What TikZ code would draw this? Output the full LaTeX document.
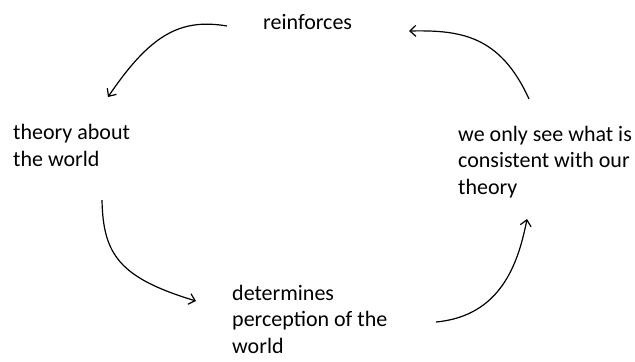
\documentclass[tikz,border=0pt]{standalone}
\usepackage{fontspec}
\setmainfont{Carlito}
\usetikzlibrary{arrows.meta}

\begin{document}
\begin{tikzpicture}[x=1bp,y=-1bp,
    label/.style={anchor=base west,inner sep=0pt,align=left,
        font=\fontsize{22bp}{26.5bp}\selectfont},
    cycle/.style={line width=1.2bp,-{Straight Barb[length=6bp,width=11bp]}}]
    \useasboundingbox (0,0) rectangle (635,361);

    % Labels (base = last line)
    \node[label] (reinf) at (263,29) {reinforces};
    \node[label] (theory) at (13,166) {theory about\\the world};
    \node[label] (percep) at (232,353) {determines\\perception of the\\world};
    \node[label] (consist) at (458,194) {we only see what is\\consistent with our\\theory};

    % Arrow ends
    \coordinate (a1) at (227,26);  \coordinate (b1) at (108,97);
    \coordinate (a2) at (102,200); \coordinate (b2) at (196,301);
    \coordinate (a3) at (436,322); \coordinate (b3) at (527,219);
    \coordinate (a4) at (529,99);  \coordinate (b4) at (409,31);

    % Arrows
    \draw[cycle] (a1) .. controls (180,18) and (150,35) .. (b1);
    \draw[cycle] (a2) .. controls (103,255) and (120,278) .. (b2);
    \draw[cycle] (a3) .. controls (500,316) and (518,265) .. (b3);
    \draw[cycle] (a4) .. controls (500,35) and (460,30) .. (b4);
\end{tikzpicture}
\end{document}
